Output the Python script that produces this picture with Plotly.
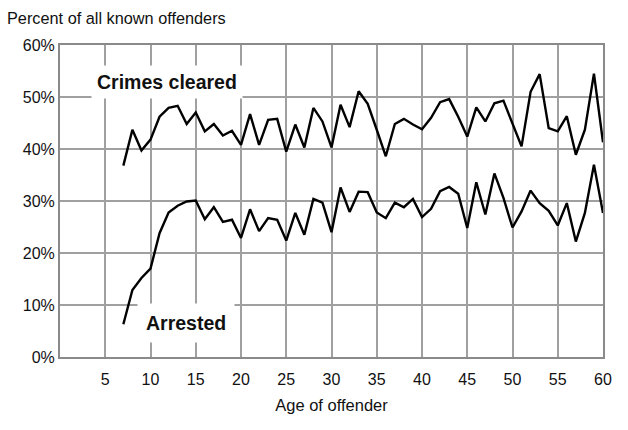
import plotly.graph_objects as go

ages = list(range(7, 61))
crimes_cleared = [36.8, 43.7, 39.7, 41.8, 46.2, 47.9, 48.3, 44.8, 47.0, 43.4,
                  44.8, 42.6, 43.5, 40.8, 46.7, 40.8, 45.6, 45.8, 39.5, 44.7,
                  40.3, 47.9, 45.3, 40.3, 48.5, 44.2, 51.1, 48.7, 43.7, 38.6,
                  44.8, 45.8, 44.7, 43.8, 46.0, 49.0, 49.6, 46.2, 42.4, 48.0,
                  45.3, 48.8, 49.3, 45.0, 40.5, 51.0, 54.4, 44.0, 43.4, 46.3,
                  38.9, 43.7, 54.5, 41.3]
arrested = [6.3, 12.9, 15.2, 17.0, 23.8, 27.8, 29.1, 29.9, 30.1, 26.5,
            28.8, 26.0, 26.4, 22.9, 28.4, 24.2, 26.7, 26.4, 22.4, 27.7,
            23.5, 30.4, 29.7, 24.0, 32.6, 27.9, 31.8, 31.7, 27.8, 26.7,
            29.7, 28.8, 30.4, 26.9, 28.5, 31.9, 32.7, 31.4, 24.8, 33.6,
            27.4, 35.3, 30.6, 24.9, 28.0, 32.0, 29.6, 28.1, 25.3, 29.6,
            22.2, 27.7, 37.0, 27.7]
x_ticks = [5, 10, 15, 20, 25, 30, 35, 40, 45, 50, 55, 60]
y_ticks = [0, 10, 20, 30, 40, 50, 60]
y_tick_labels = ["0%", "10%", "20%", "30%", "40%", "50%", "60%"]

FONT = "Liberation Sans, Arial, sans-serif"

fig = go.Figure()
fig.add_trace(go.Scatter(x=ages, y=crimes_cleared, mode="lines",
                         line=dict(color="black", width=2.4), showlegend=False))
fig.add_trace(go.Scatter(x=ages, y=arrested, mode="lines",
                         line=dict(color="black", width=2.4), showlegend=False))

fig.update_layout(
    width=628, height=430,
    margin=dict(l=60, r=25, t=45, b=73, autoexpand=False),
    paper_bgcolor="white", plot_bgcolor="white",
    font=dict(family=FONT, size=16, color="#111"),
    xaxis=dict(range=[0, 60], tickvals=x_ticks, showgrid=True,
               gridcolor="#a0a0a0", gridwidth=1.5,
               showline=True, linecolor="#8a8a8a", linewidth=2, mirror=True,
               zeroline=False, ticks="", ticklabelstandoff=7,
               title=dict(text="Age of offender", font=dict(size=16.5), standoff=12),
               tickfont=dict(size=16)),
    yaxis=dict(range=[0, 60], tickvals=y_ticks, ticktext=y_tick_labels,
               showgrid=True, gridcolor="#a0a0a0", gridwidth=1.5,
               showline=True, linecolor="#8a8a8a", linewidth=2, mirror=True,
               zeroline=False, ticks="", tickfont=dict(size=16)),
    annotations=[
        dict(text="Percent of all known offenders", xref="paper", yref="paper",
             x=0, xshift=-55, y=1, yshift=27, xanchor="left", yanchor="middle",
             showarrow=False, font=dict(size=16.3)),
        dict(text="<b>Crimes cleared</b>", x=11.86, y=52.8, xref="x", yref="y",
             showarrow=False, bgcolor="white", borderpad=5,
             font=dict(size=19.5, color="#111")),
        dict(text="<b>Arrested</b>", x=13.95, y=6.6, xref="x", yref="y",
             showarrow=False, bgcolor="white", borderpad=8,
             font=dict(size=19.5, color="#111")),
    ],
)

fig.write_html("out.html", config={"displayModeBar": False},
               post_script="document.body.style.margin='0';")
